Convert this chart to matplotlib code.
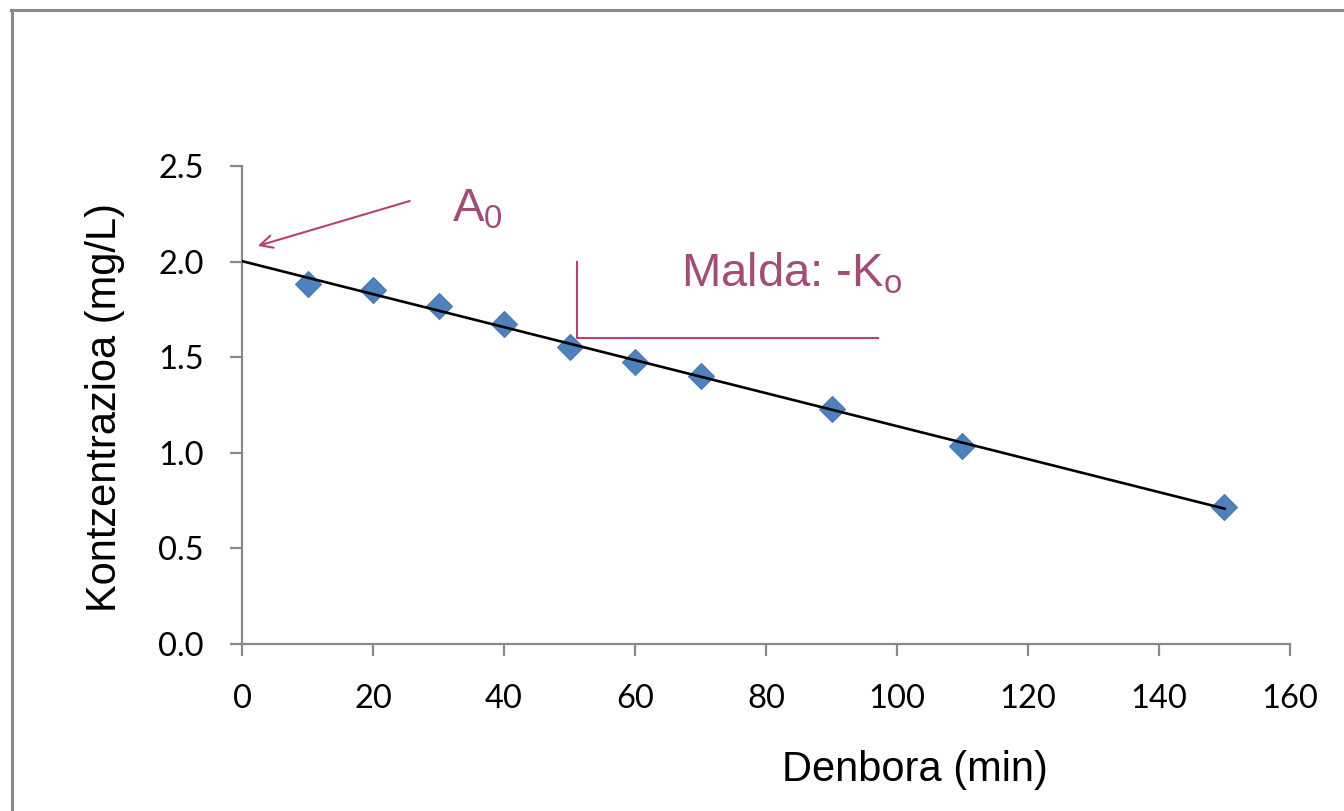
#!/usr/bin/env python3
"""Zero-order kinetics plot: concentration vs time with linear trend."""

import matplotlib
matplotlib.use("Agg")
import matplotlib.pyplot as plt
from matplotlib.lines import Line2D
import numpy as np

# ── Data ──
denbora = [10, 20, 30, 40, 50, 60, 70, 90, 110, 150]
kontzentrazioa = [1.883, 1.851, 1.768, 1.674, 1.553, 1.475, 1.402, 1.229, 1.036, 0.717]
x_ticks = [0, 20, 40, 60, 80, 100, 120, 140, 160]
y_ticks = [0.0, 0.5, 1.0, 1.5, 2.0, 2.5]

AXIS_GRAY = "#898989"
BLUE = "#4f81bd"
MAUVE_LINE = "#b8426f"
MAUVE_TEXT = "#a24c78"

fig = plt.figure(figsize=(13.44, 8.11), dpi=100)
fig.patch.set_facecolor("white")
ax = fig.add_axes([0.1801, 0.2059, 0.7797, 0.5894])

# outer frame (chart area border, cut by the image edge)
fig.add_artist(Line2D([0.0093, 0.0093], [0.0, 0.9877], color=AXIS_GRAY, lw=2.2,
                      transform=fig.transFigure))
fig.add_artist(Line2D([0.0082, 1.0], [0.9877, 0.9877], color=AXIS_GRAY, lw=2.2,
                      transform=fig.transFigure))

# points + linear trend
ax.plot(denbora, kontzentrazioa, linestyle="none", marker="D", ms=13,
        color=BLUE, mec="#4a7ab3", mew=0.8, zorder=3)
slope, intercept = np.polyfit(denbora, kontzentrazioa, 1)
xt = np.array([0, 150])
ax.plot(xt, slope * xt + intercept, color="black", lw=1.9, zorder=4)

ax.set_xlim(0, 160)
ax.set_ylim(0, 2.5)
ax.set_xticks(x_ticks)
ax.set_yticks(y_ticks)
ax.set_xticklabels([str(v) for v in x_ticks])
ax.set_yticklabels([f"{v:.1f}" for v in y_ticks])

for side in ("top", "right"):
    ax.spines[side].set_visible(False)
for side in ("left", "bottom"):
    ax.spines[side].set_color(AXIS_GRAY)
    ax.spines[side].set_linewidth(1.6)
ax.tick_params(axis="both", direction="out", length=8.5, width=1.6,
               color=AXIS_GRAY, labelsize=23.5, labelcolor="black")
ax.tick_params(axis="y", pad=19)
ax.tick_params(axis="x", pad=20)
for lbl in ax.get_xticklabels() + ax.get_yticklabels():
    lbl.set_family(["Lato", "DejaVu Sans"])

fig.text(0.078, 0.498, "Kontzentrazioa (mg/L)", rotation=90, ha="center",
         va="center", fontsize=30, family=["Liberation Sans", "DejaVu Sans"])
fig.text(0.6808, 0.0506, "Denbora (min)", ha="center", va="center",
         fontsize=30, family=["Liberation Sans", "DejaVu Sans"])

# annotations
narrow = ["Liberation Sans Narrow", "Liberation Sans", "DejaVu Sans"]
ax.annotate("", xy=(2.4, 2.082), xytext=(25.6, 2.317),
            arrowprops=dict(arrowstyle="->,head_length=0.9,head_width=0.45",
                            color=MAUVE_LINE, lw=1.5, shrinkA=0, shrinkB=0))
ax.text(32.0, 2.21, r"A$_\mathregular{0}$", fontsize=34, color=MAUVE_TEXT,
        family=narrow, ha="left", va="baseline")
ax.plot([51.1, 51.1, 97.1], [1.998, 1.600, 1.600], color=MAUVE_LINE, lw=1.5)
ax.text(67.0, 1.87, r"Malda: -K$_\mathregular{o}$", fontsize=34,
        color=MAUVE_TEXT, family=narrow, ha="left", va="baseline")

fig.savefig("out.png", dpi=100, facecolor="white")
